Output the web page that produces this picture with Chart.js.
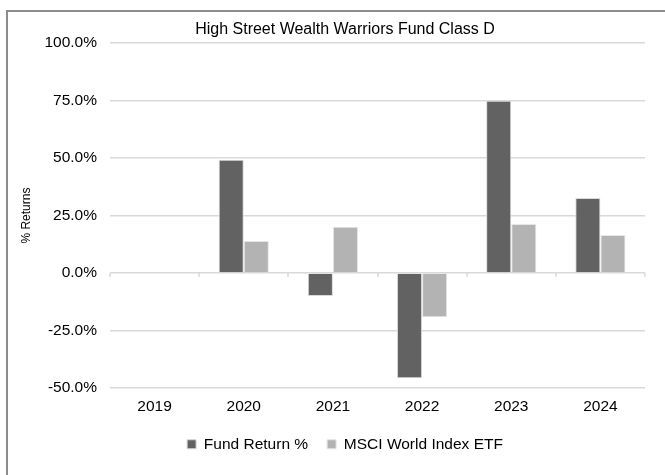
<!DOCTYPE html>
<html>
<head>
<meta charset="utf-8">
<title>High Street Wealth Warriors Fund Class D</title>
<script src="https://cdn.jsdelivr.net/npm/chart.js@4.4.1/dist/chart.umd.min.js"></script>
<style>
    html, body { margin: 0; padding: 0; background: #fff; overflow: hidden; }
    .chart-frame {
        position: absolute;
        left: 6px;
        top: 10px;
        width: 676px;
        height: 480px;
        border-top: 2px solid #8c8c8c;
        border-left: 2px solid #8c8c8c;
        background: #fff;
    }
    #myChart { display: block; }
</style>
</head>
<body>
<div class="chart-frame">
    <canvas id="myChart" width="676" height="463"></canvas>
</div>
<script>
// chart data
var years = ['2019', '2020', '2021', '2022', '2023', '2024'];
var fundReturns = [null, 49.3, -10.0, -45.8, 75.0, 32.7];
var msciReturns = [null, 14.0, 20.1, -19.2, 21.4, 16.6];
var yTicks = [-50, -25, 0, 25, 50, 75, 100];

var chartTitle = 'High Street Wealth Warriors Fund Class D';
var fontFamily = '"Liberation Sans", Arial, sans-serif';

Chart.defaults.font.family = fontFamily;
Chart.defaults.font.size = 15.5;
Chart.defaults.color = '#000';

// small tick marks on the zero line between the categories (like excel does)
var zeroTicks = {
    id: 'zeroTicks',
    afterDatasetsDraw: function(chart) {
        var x = chart.scales.x;
        var y = chart.scales.y;
        var ctx = chart.ctx;
        var zero = y.getPixelForValue(0);
        var half = (x.getPixelForTick(1) - x.getPixelForTick(0)) / 2;
        ctx.save();
        ctx.strokeStyle = '#d9d9d9';
        ctx.lineWidth = 1.5;
        ctx.beginPath();
        for (var i = 0; i <= years.length; i++) {
            var px = Math.round(x.getPixelForTick(0) - half + i * half * 2);
            ctx.moveTo(px, zero);
            ctx.lineTo(px, zero + 4);
        }
        ctx.stroke();
        ctx.restore();
    }
};

var ctx = document.getElementById('myChart').getContext('2d');
var myChart = new Chart(ctx, {
    type: 'bar',
    data: {
        labels: years,
        datasets: [{
            label: 'Fund Return %',
            data: fundReturns,
            backgroundColor: '#626262',
            borderColor: '#d9d9d9',
            borderWidth: 1,
            categoryPercentage: 0.563,
            barPercentage: 1.0
        }, {
            label: 'MSCI World Index ETF',
            data: msciReturns,
            backgroundColor: '#b3b3b3',
            borderColor: '#e6e6e6',
            borderWidth: 1,
            categoryPercentage: 0.563,
            barPercentage: 1.0
        }]
    },
    plugins: [zeroTicks],
    options: {
        responsive: false,
        animation: false,
        layout: {
            padding: { left: 0, right: 2, top: 0, bottom: 13 }
        },
        plugins: {
            title: {
                display: true,
                text: chartTitle,
                color: '#000',
                font: { size: 16, weight: 'normal' },
                padding: { top: 8, bottom: 4 }
            },
            legend: {
                display: true,
                position: 'bottom',
                labels: {
                    boxWidth: 9,
                    boxHeight: 9,
                    padding: 19,
                    color: '#000',
                    font: { size: 15.5 }
                }
            },
            tooltip: { enabled: false }
        },
        scales: {
            x: {
                grid: { display: false },
                border: { display: false },
                ticks: {
                    padding: 3,
                    color: '#000',
                    font: { size: 15.5, lineHeight: 1.0 }
                }
            },
            y: {
                min: -50,
                max: 100,
                afterBuildTicks: function(axis) {
                    axis.ticks = yTicks.map(function(v) { return { value: v }; });
                },
                afterFit: function(axis) {
                    axis.width = 102;
                },
                grid: {
                    color: '#d9d9d9',
                    lineWidth: 1.5,
                    drawTicks: false
                },
                border: { display: false },
                ticks: {
                    padding: 13,
                    color: '#000',
                    callback: function(value) {
                        return value.toFixed(1) + '%';
                    }
                },
                title: {
                    display: true,
                    text: '% Returns',
                    color: '#000',
                    font: { size: 12 },
                    padding: { top: 11, bottom: 0 }
                }
            },
            // empty space on the right, keeps title and legend centred like the original
            yRight: {
                position: 'right',
                display: true,
                grid: { display: false },
                border: { display: false },
                ticks: { display: false },
                afterFit: function(axis) {
                    axis.width = 37;
                }
            }
        }
    }
});
</script>
</body>
</html>
